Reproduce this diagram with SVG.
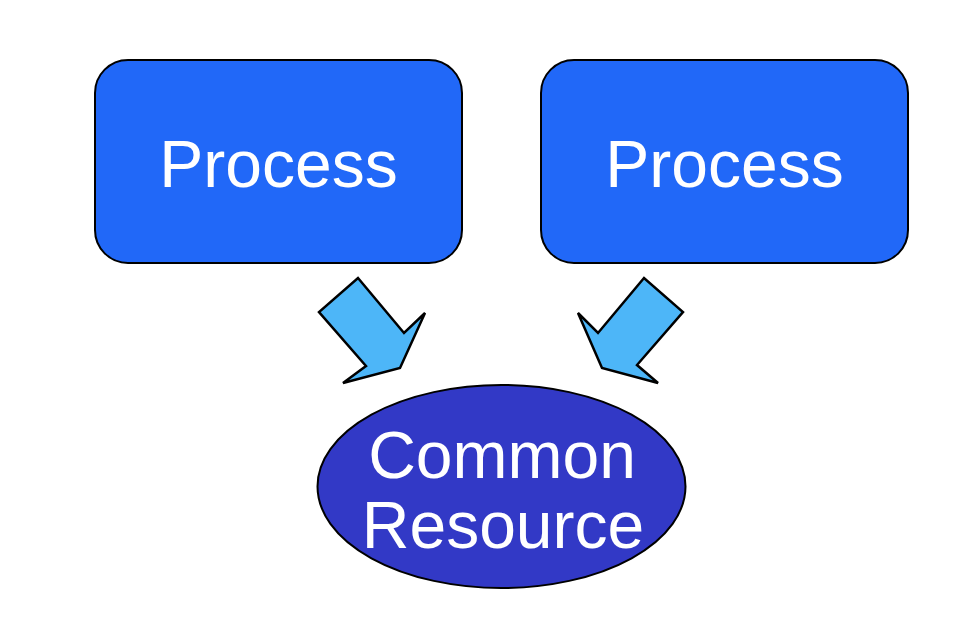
<svg xmlns="http://www.w3.org/2000/svg" width="970" height="642" viewBox="0 0 970 642">
<style>
.proc{fill:#2168F8;stroke:#000;stroke-width:2}
.res{fill:#3239C6;stroke:#000;stroke-width:2}
.arr{fill:#4DB6F8;stroke:#000;stroke-width:2.5;stroke-linejoin:miter}
.lbl{font-family:"Liberation Sans",Arial,sans-serif;font-size:66px;fill:#fff;text-anchor:middle}
</style>
<rect width="970" height="642" fill="#fff"/>
<g id="process1">
<rect class="proc" x="95" y="60" width="367" height="203" rx="33" ry="33"/>
<text class="lbl" x="278.5" y="187">Process</text>
</g>
<g id="process2">
<rect class="proc" x="541" y="60" width="367" height="203" rx="33" ry="33"/>
<text class="lbl" x="724.5" y="187">Process</text>
</g>
<g id="resource">
<ellipse class="res" cx="501.5" cy="486.5" rx="184" ry="101.5"/>
<text class="lbl" x="502" y="478">Common</text>
<text class="lbl" x="503" y="548">Resource</text>
</g>
<g id="connectors">
<polygon class="arr" points="358,278 404,333 425,313 400,368 343,383 366,366 319,312"/>
<polygon class="arr" points="644,278 598,333 578,313 602,368 658,383 637,365 683,312"/>
</g>
</svg>
